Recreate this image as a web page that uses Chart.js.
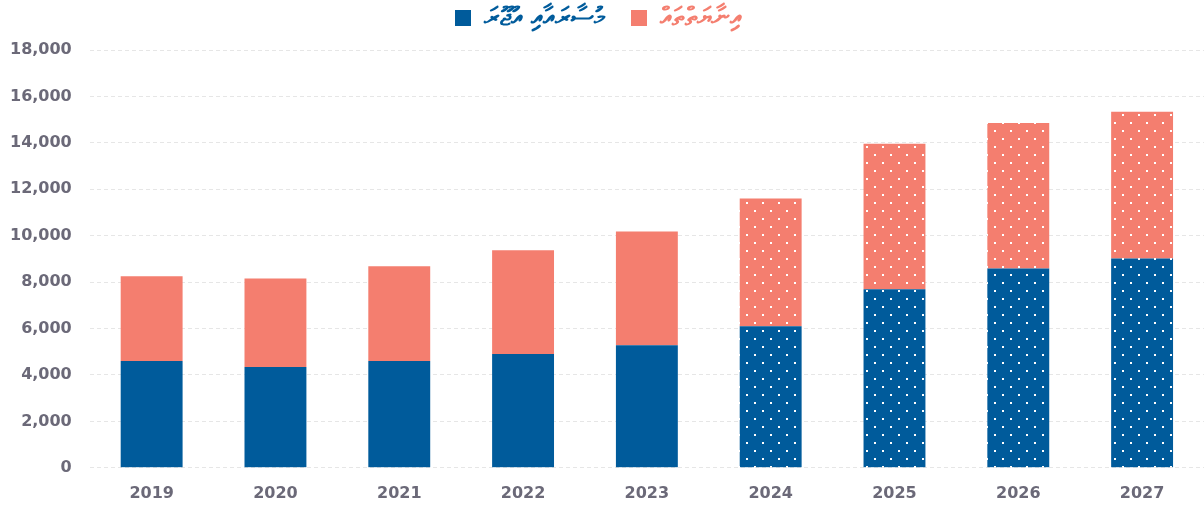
<!DOCTYPE html>
<html>
<head>
<meta charset="utf-8">
<script src="https://cdn.jsdelivr.net/npm/chart.js@4"></script>
<style>
  html, body { margin: 0; padding: 0; background: #fff; }
  #wrap { width: 1204px; height: 505px; }
</style>
</head>
<body>
<div id="wrap"><canvas id="chart"></canvas></div>
<script>
// years, salaries & wages, allowances (from 2024 on = projection)
const years = ['2019', '2020', '2021', '2022', '2023', '2024', '2025', '2026', '2027'];
const salaries = [4600, 4340, 4600, 4900, 5280, 6100, 7690, 8590, 9020];
const allowances = [3650, 3820, 4080, 4470, 4900, 5500, 6270, 6270, 6320];
const firstProjected = 5;

const blue = '#005b9b';
const pink = '#f47e6f';

// white dot pattern for projected bars
function dots(color) {
  const c = document.createElement('canvas');
  c.width = 16; c.height = 16;
  const g = c.getContext('2d');
  g.fillStyle = color;
  g.fillRect(0, 0, 16, 16);
  g.fillStyle = '#ffffff';
  g.fillRect(2, 2, 2, 2);
  g.fillRect(10, 10, 2, 2);
  return g.createPattern(c, 'repeat');
}

// extra space under the legend
const legendGap = {
  id: 'legendGap',
  beforeInit(chart) {
    const fit = chart.legend.fit;
    chart.legend.fit = function () {
      fit.call(this);
      this.height += 9;
    };
  }
};

const font = { family: "'DejaVu Sans', sans-serif", size: 16, weight: 'bold' };

new Chart(document.getElementById('chart'), {
  type: 'bar',
  data: {
    labels: years,
    datasets: [{
      label: 'މުސާރައާއި އުޖޫރަ',
      data: salaries,
      backgroundColor: ctx => ctx.dataIndex >= firstProjected ? dots(blue) : blue,
      borderWidth: 0
    }, {
      label: 'އިނާޔަތްތައް',
      data: allowances,
      backgroundColor: ctx => ctx.dataIndex >= firstProjected ? dots(pink) : pink,
      borderWidth: 0
    }]
  },
  plugins: [legendGap],
  options: {
    responsive: true,
    maintainAspectRatio: false,
    animation: false,
    categoryPercentage: 0.5,
    barPercentage: 1,
    layout: { padding: { top: -21, right: 0, left: -8, bottom: -6 } },
    plugins: {
      legend: {
        position: 'top',
        labels: {
          boxWidth: 16, boxHeight: 16, padding: 26,
          font: { family: "'DejaVu Sans', sans-serif", size: 26, weight: 'bold' },
          generateLabels: chart => chart.data.datasets.map((ds, i) => ({
            text: ds.label,
            fillStyle: i === 0 ? blue : pink,
            strokeStyle: i === 0 ? blue : pink,
            fontColor: i === 0 ? blue : pink,
            lineWidth: 0,
            datasetIndex: i
          }))
        }
      },
      tooltip: { enabled: false }
    },
    scales: {
      x: {
        stacked: true,
        grid: { display: false },
        border: { display: false },
        ticks: { color: '#6b6978', font, padding: 8 }
      },
      y: {
        stacked: true,
        min: 0,
        max: 18000,
        ticks: { stepSize: 2000, color: '#6b6978', font, padding: 18 },
        grid: { color: '#e6e6e6', drawTicks: false },
        border: { display: false, dash: [4, 3] }
      }
    }
  }
});
</script>
</body>
</html>
